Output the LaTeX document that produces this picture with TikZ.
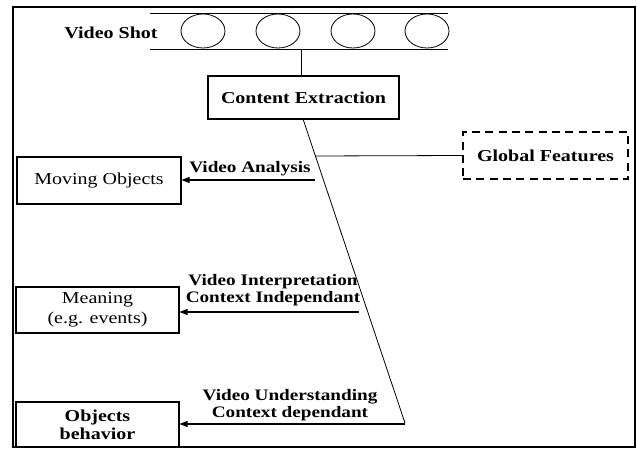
\documentclass[tikz,border=0pt]{standalone}
\usepackage{fontspec}
\setmainfont{Liberation Serif}[FakeStretch=1.2]
\usetikzlibrary{arrows.meta,shapes.geometric}

\tikzset{
  box/.style={draw, line width=0.8pt, inner sep=0pt, align=center,
    font=\fontsize{12.5}{15}\selectfont},
  frame/.style={draw, line width=0.6pt, ellipse, minimum width=33pt,
    minimum height=25.5pt, inner sep=0pt},
  lbl/.style={inner sep=0pt, align=center,
    font=\fontsize{12}{12.75}\selectfont\bfseries},
  wire/.style={line width=0.6pt},
  feed/.style={line width=0.8pt, -{Triangle[length=6pt,width=4.5pt]}},
}

\begin{document}
\begin{tikzpicture}[x=0.75pt, y=-0.75pt]
  \useasboundingbox (0,0) rectangle (637,449);

  % outer border
  \draw[line width=1.5pt] (13,7) rectangle (635,447);

  % film strip of the video shot
  \node[lbl, font=\fontsize{12.5}{15}\selectfont\bfseries] (shot) at (111,33) {Video Shot};
  \coordinate (stripTL) at (150,13);
  \coordinate (stripTR) at (448,13);
  \coordinate (stripBL) at (150,49);
  \coordinate (stripBR) at (448,49);
  \draw[wire] (stripTL) -- (stripTR);
  \draw[wire] (stripBL) -- (stripBR);
  \node[frame] (f1) at (203,31) {};
  \node[frame] (f2) at (278,31) {};
  \node[frame] (f3) at (353,31) {};
  \node[frame] (f4) at (427,31) {};

  % extraction stage
  \node[box, minimum width=143.25pt, minimum height=32.25pt, font=\fontsize{12.5}{15}\selectfont\bfseries]
    (extract) at (303.5,97.5) {Content Extraction};
  \coordinate (stripTap) at (301,49);
  \draw[wire] (stripTap) -- (stripTap |- extract.north);

  \node[box, dashed, dash pattern=on 6pt off 4pt, line width=1.1pt,
    minimum width=123.75pt, minimum height=35.25pt,
    font=\fontsize{12.5}{15}\selectfont\bfseries]
    (global) at (545.5,155.5) {Global Features};

  % slanted trunk from the extraction box
  \coordinate (trunkTop) at (303,119);
  \coordinate (trunkEnd) at (405,423);
  \draw[wire] (trunkTop) -- (trunkEnd);
  \coordinate (globalJoin) at (315.4,156);
  \draw[wire] (global.west) -- (globalJoin);

  % result boxes
  \node[box, minimum width=123pt, minimum height=35.25pt] (moving) at (99,180.5) {Moving Objects};
  \node[box, minimum width=122.25pt, minimum height=34.5pt, font=\fontsize{12.5}{15}\selectfont]
    (meaning) at (97.5,310) {Meaning\\(e.g. events)};
  \node[box, minimum width=122.25pt, minimum height=33.75pt, font=\fontsize{12.5}{13.5}\selectfont\bfseries]
    (behav) at (97.5,424.5) {Objects\\behavior};

  % arrows to the result boxes
  \coordinate (aStart) at (315,180);
  \coordinate (iStart) at (359,312);
  \coordinate (uStart) at (405,424);
  \draw[feed] (aStart) -- (aStart -| moving.east);
  \draw[feed] (iStart) -- (iStart -| meaning.east);
  \draw[feed] (uStart) -- (uStart -| behav.east);

  \node[lbl] (analysis) at (250,169) {Video Analysis};
  \node[lbl] (interp) at (273,290) {Video Interpretation\\Context Independant};
  \node[lbl] (underst) at (290,405.5) {Video Understanding\\Context dependant};
\end{tikzpicture}
\end{document}
